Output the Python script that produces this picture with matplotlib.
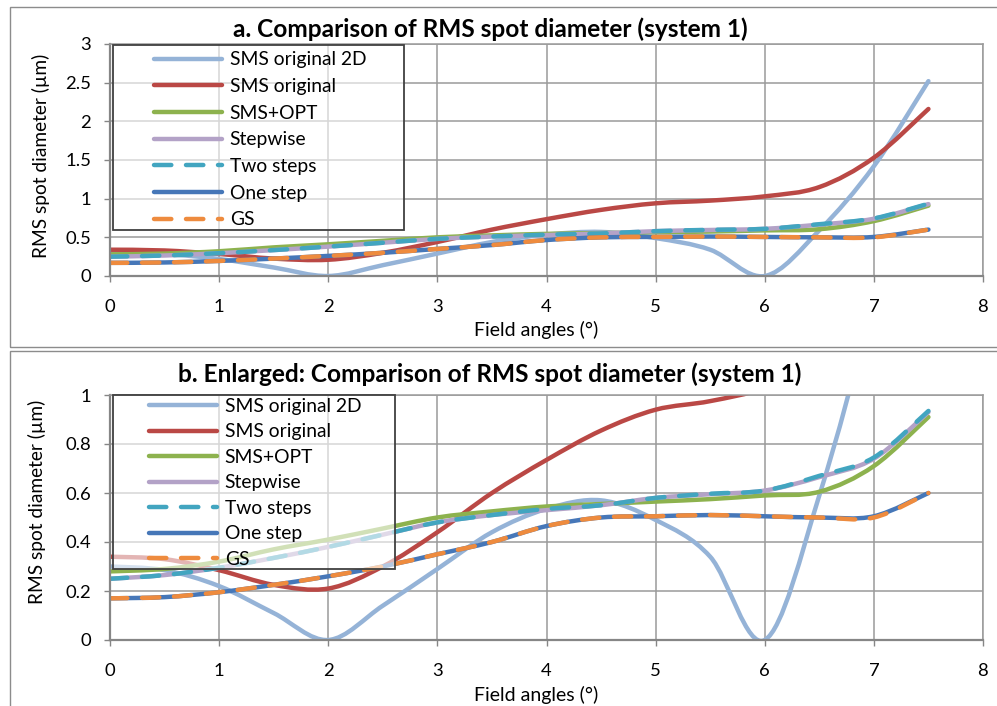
import numpy as np
import matplotlib
matplotlib.use('Agg')
import matplotlib.pyplot as plt
from matplotlib.path import Path
from matplotlib.patches import PathPatch, Rectangle
from matplotlib.lines import Line2D

plt.rcParams['font.family'] = ['Lato', 'DejaVu Sans']

# field angles (deg) and RMS spot diameters (um)
angles = [0, 0.5, 1, 1.5, 2, 2.5, 3, 3.5, 4, 4.5, 5, 5.5, 6, 6.5, 7, 7.5]
sms_2d = [0.30, 0.285, 0.22, 0.11, 0.0, 0.14, 0.29, 0.44, 0.535, 0.57, 0.49, 0.34, 0.0, 0.59, 1.42, 2.52]
sms_orig = [0.34, 0.33, 0.285, 0.225, 0.21, 0.30, 0.44, 0.60, 0.735, 0.855, 0.94, 0.975, 1.03, 1.15, 1.53, 2.16]
sms_opt = [0.28, 0.29, 0.32, 0.37, 0.41, 0.455, 0.50, 0.525, 0.545, 0.555, 0.565, 0.575, 0.59, 0.605, 0.71, 0.91]
stepwise = [0.25, 0.265, 0.295, 0.335, 0.38, 0.43, 0.48, 0.51, 0.53, 0.55, 0.58, 0.595, 0.61, 0.665, 0.74, 0.93]
two_steps = [0.25, 0.265, 0.295, 0.335, 0.38, 0.43, 0.48, 0.51, 0.535, 0.55, 0.58, 0.597, 0.61, 0.67, 0.745, 0.935]
one_step = [0.17, 0.175, 0.195, 0.225, 0.26, 0.30, 0.35, 0.40, 0.465, 0.50, 0.505, 0.51, 0.505, 0.50, 0.505, 0.60]
gs = [0.17, 0.175, 0.195, 0.225, 0.26, 0.30, 0.35, 0.40, 0.465, 0.50, 0.505, 0.51, 0.505, 0.50, 0.50, 0.60]

names = ['SMS original 2D', 'SMS original', 'SMS+OPT', 'Stepwise', 'Two steps', 'One step', 'GS']
series = [sms_2d, sms_orig, sms_opt, stepwise, two_steps, one_step, gs]
colors = ['#95B3D7', '#BA4845', '#8DB24E', '#B3A2C7', '#42A5C0', '#4677B8', '#EE8B3E']
dash = (0, (3.9, 3.3))
styles = ['-', '-', '-', '-', dash, '-', dash]
lw = 3.2

W, H = 997, 706
def fx(px):
    return px / W
def fy(py):
    return 1 - py / H

def smooth_path(x, y):
    # excel-style smoothed line as cubic bezier segments
    pts = np.column_stack([x, y]).astype(float)
    n = len(pts)
    verts = [pts[0]]
    codes = [Path.MOVETO]
    for i in range(n - 1):
        p0 = pts[max(i - 1, 0)]
        p1 = pts[i]
        p2 = pts[i + 1]
        p3 = pts[min(i + 2, n - 1)]
        verts += [p1 + (p2 - p0) / 6, p2 - (p3 - p1) / 6, p2]
        codes += [Path.CURVE4] * 3
    return Path(verts, codes)

fig = plt.figure(figsize=(W / 100, H / 100), dpi=100)

grid_c = '#9a9a9a'
panels = [
    dict(rect=[fx(110), fy(276), fx(873), 232 / H], ylim=3, yticks=[0, 0.5, 1, 1.5, 2, 2.5, 3],
         ylabs=['0', '0.5', '1', '1.5', '2', '2.5', '3'],
         title='a. Comparison of RMS spot diameter (system 1)', ty=29, xly=330, yly=156, ylx=41,
         box=(7, 347), leg=(113, 45, 404, 230), leg_anchor=(154, 51.5), lspace=0.5),
    dict(rect=[fx(110), fy(640), fx(873), 245 / H], ylim=1, yticks=[0, 0.2, 0.4, 0.6, 0.8, 1],
         ylabs=['0', '0.2', '0.4', '0.6', '0.8', '1'],
         title='b. Enlarged: Comparison of RMS spot diameter (system 1)', ty=374, xly=695, yly=502, ylx=37,
         box=(351, 730), leg=(113, 395, 395, 569), leg_anchor=(149, 398), lspace=0.44),
]

for p in panels:
    # chart area border
    fig.add_artist(Rectangle((fx(10), fy(p['box'][1])), fx(1100), (p['box'][1] - p['box'][0]) / H,
                             transform=fig.transFigure, fill=False, ec='#8c8c8c', lw=1.0))
    ax = fig.add_axes(p['rect'])
    for i in range(len(series)):
        pp = PathPatch(smooth_path(angles, series[i]), fill=False, ec=colors[i], lw=lw,
                       linestyle=styles[i], capstyle='round', joinstyle='round', zorder=2 + i * 0.01)
        ax.add_patch(pp)
    ax.set_xlim(0, 8)
    ax.set_ylim(0, p['ylim'])
    ax.set_xticks(range(9))
    ax.set_yticks(p['yticks'])
    ax.set_yticklabels(p['ylabs'])
    ax.grid(True, color=grid_c, lw=1.1)
    ax.set_axisbelow(True)
    for s in ['top', 'right']:
        ax.spines[s].set_color(grid_c)
        ax.spines[s].set_linewidth(1.1)
    for s in ['bottom', 'left']:
        ax.spines[s].set_color('#868686')
        ax.spines[s].set_linewidth(1.6)
    ax.tick_params(axis='both', direction='out', length=4.5, width=1, color='#868686', labelsize=13.3)
    ax.tick_params(axis='x', pad=12)
    ax.tick_params(axis='y', pad=9)

    # legend box (semi transparent, like the excel legend)
    lx0, ly0, lx1, ly1 = p['leg']
    ax.add_artist(Rectangle((fx(lx0), fy(ly1)), (lx1 - lx0) / W, (ly1 - ly0) / H, transform=fig.transFigure,
                            fc=(1, 1, 1, 0.6), ec='#404040', lw=1.3, zorder=4, clip_on=False))
    hands = [Line2D([], [], color=colors[i], lw=lw, linestyle=styles[i], solid_capstyle='round',
                    dash_capstyle='round') for i in range(len(series))]
    ax.legend(hands, names, loc='upper left', bbox_to_anchor=(fx(p['leg_anchor'][0]), fy(p['leg_anchor'][1])),
              bbox_transform=fig.transFigure, frameon=False, fontsize=13.9, borderpad=0, borderaxespad=0,
              handlelength=3.5, handletextpad=0.42, labelspacing=p['lspace'])

    fig.text(fx(490), fy(p['ty']), p['title'], ha='center', va='center', fontsize=17.6, fontweight='bold')
    fig.text(fx(536), fy(p['xly']), 'Field angles (°)', ha='center', va='center', fontsize=14)
    fig.text(fx(p['ylx']), fy(p['yly']), 'RMS spot diameter (µm)', ha='center', va='center',
             rotation=90, fontsize=13.8)

fig.savefig('out.png', dpi=100)
